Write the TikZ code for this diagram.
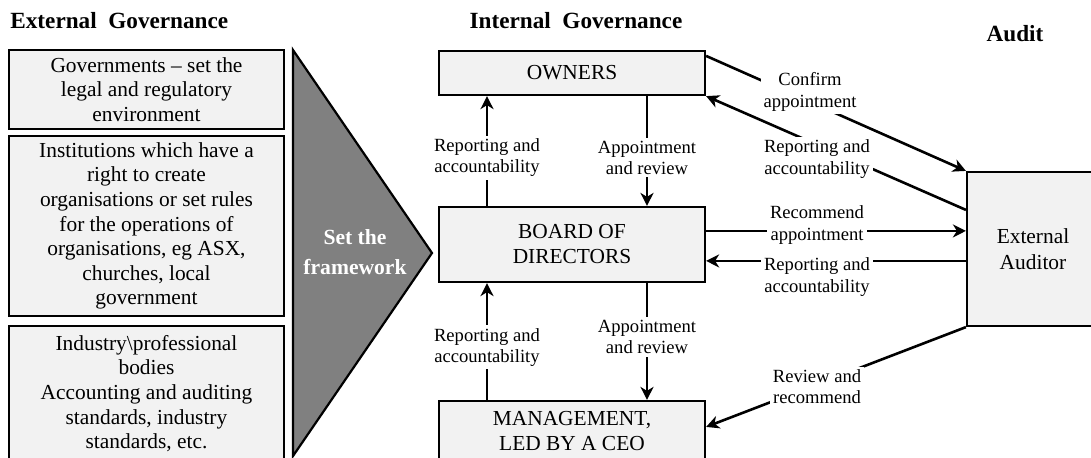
\documentclass[tikz,border=0pt]{standalone}
\usepackage{fontspec}
\setmainfont{Liberation Serif}
\usetikzlibrary{arrows.meta,calc}
\definecolor{boxfill}{HTML}{F2F2F2}
\definecolor{framegray}{HTML}{808080}
\begin{document}
\begin{tikzpicture}[x=0.5pt,y=-0.5pt,
  box/.style={draw=black,line width=1.1pt,fill=boxfill,align=center,font=\fontsize{10.7}{12.3}\selectfont,inner sep=0pt},
  lab/.style={fill=white,align=center,font=\fontsize{9.3}{10.6}\selectfont,inner sep=1.5pt},
  arr/.style={line width=1.3pt,-{Stealth[length=6.5pt,width=6.5pt,inset=2pt]}},
  ttl/.style={font=\fontsize{11.6}{13}\selectfont\bfseries,inner sep=0pt}]
\useasboundingbox (0,0) rectangle (1091,457);
\clip (0,0) rectangle (1091,457);
% titles
\node[ttl,anchor=west] (ext) at (10,21) {External~~Governance};
\node[ttl] (int) at (576,21) {Internal~~Governance};
\node[ttl] (aud) at (1015,34) {Audit};
% external governance boxes
\node[box,minimum width=137.5pt,minimum height=39.5pt] (gov) at (146.5,89.5) {Governments – set the\\legal and regulatory\\environment};
\node[box,minimum width=137.5pt,minimum height=90pt] (inst) at (146.5,226) {Institutions which have a\\right to create\\organisations or set rules\\for the operations of\\organisations, eg ASX,\\churches, local\\government};
\node[box,minimum width=137.5pt,minimum height=67.5pt] (ind) at (146.5,393.5) {Industry\textbackslash professional\\bodies\\Accounting and auditing\\standards, industry\\standards, etc.};
% framework arrow
\draw[line width=1.1pt,fill=framegray] (293,50) -- (432,253) -- (293,456) -- cycle;
\node[font=\fontsize{10.8}{15}\selectfont\bfseries,text=white,align=center] (fw) at (355,252) {Set the\\framework};
% internal governance
\node[box,minimum width=133pt,minimum height=22pt] (own) at (572,73) {OWNERS};
\node[box,minimum width=133pt,minimum height=37.5pt,font=\fontsize{10.7}{12.5}\selectfont] (brd) at (572,244.5) {BOARD OF\\DIRECTORS};
\node[box,minimum width=133pt,minimum height=30pt] (mgt) at (572,431) {MANAGEMENT,\\LED BY A CEO};
% auditor
\node[box,minimum width=66pt,minimum height=77pt,font=\fontsize{10.7}{13}\selectfont] (ea) at (1033,249) {External\\Auditor};
% vertical connectors
\draw[arr] ($(brd.north)+(-85,0)$) -- node[lab,pos=0.44] (r1) {Reporting and\\accountability} ($(own.south)+(-85,0)$);
\draw[arr] ($(own.south)+(75,0)$) -- node[lab,pos=0.56] (a1) {Appointment\\and review} ($(brd.north)+(75,0)$);
\draw[arr] ($(mgt.north)+(-85,0)$) -- node[lab,pos=0.45] (r2) {Reporting and\\accountability} ($(brd.south)+(-85,0)$);
\draw[arr] ($(brd.south)+(75,0)$) -- node[lab,pos=0.46] (a2) {Appointment\\and review} ($(mgt.north)+(75,0)$);
% audit connectors
\draw[arr] ($(own.north east)+(0,6)$) -- (ea.north west);
\draw[arr] ($(ea.north west)+(0,39)$) -- (own.south east);
\draw[arr] ($(brd.north east)+(0,25)$) -- ($(ea.north west)+(0,60)$);
\draw[arr] ($(ea.north west)+(0,90)$) -- ($(brd.north east)+(0,55)$);
\draw[arr] (ea.south west) -- ($(mgt.north east)+(0,27)$);
\node[lab] (l1) at (810,92) {Confirm\\appointment};
\node[lab] (l2) at (817,159) {Reporting and\\accountability};
\node[lab] (l3) at (817,225) {Recommend\\appointment};
\node[lab] (l4) at (817,277) {Reporting and\\accountability};
\node[lab] (l5) at (817,387) {Review and\\recommend};
\end{tikzpicture}
\end{document}
